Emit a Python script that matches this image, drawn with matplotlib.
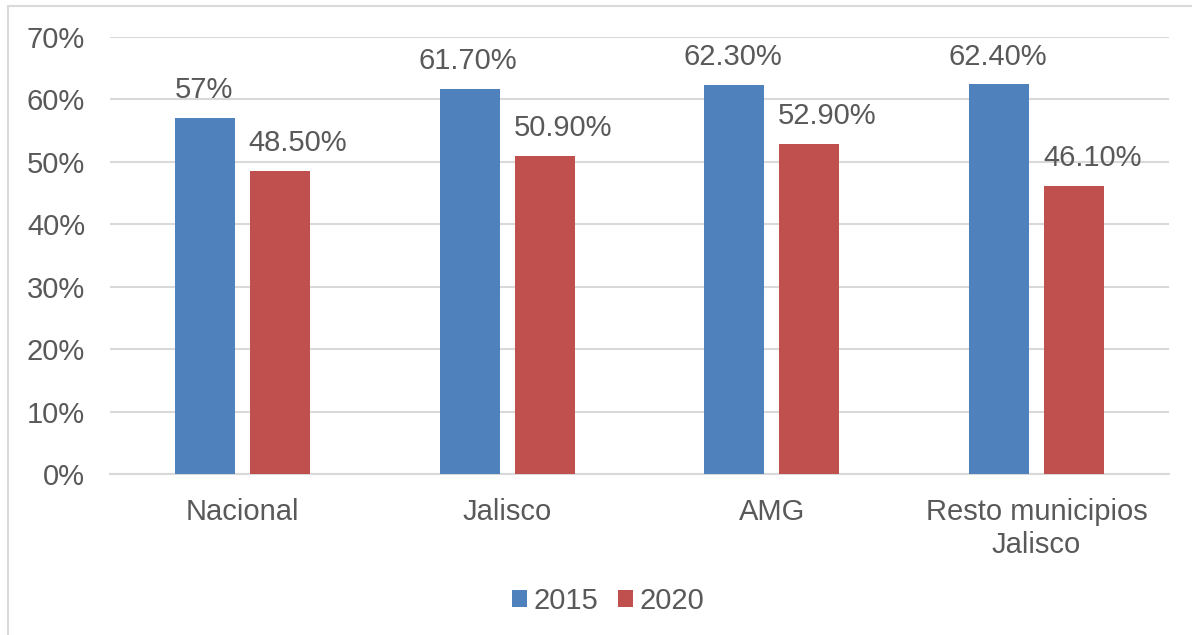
import matplotlib
matplotlib.use("Agg")
import matplotlib.pyplot as plt
import numpy as np
from matplotlib.patches import Rectangle

categories = ["Nacional", "Jalisco", "AMG", "Resto municipios\nJalisco"]
series_names = ["2015", "2020"]
values_2015 = [57.0, 61.7, 62.3, 62.4]
values_2020 = [48.5, 50.9, 52.9, 46.1]
labels_2015 = ["57%", "61.70%", "62.30%", "62.40%"]
labels_2020 = ["48.50%", "50.90%", "52.90%", "46.10%"]
yticks = [0, 10, 20, 30, 40, 50, 60, 70]

plt.rcParams['font.family'] = ['Liberation Sans', 'DejaVu Sans']
TXT = '#595959'
BLUE = '#4F81BD'
RED = '#C0504D'
GRID = '#D9D9D9'
FS = 21

fig = plt.figure(figsize=(11.92, 6.35), dpi=100)
ax = fig.add_axes([110/1192, 1-474/635, (1169-110)/1192, (474-37)/635])

x = np.arange(len(categories))
w = 60/265
gap = 15/265
b1 = ax.bar(x - (w+gap)/2, values_2015, w, color=BLUE, label=series_names[0], zorder=3)
b2 = ax.bar(x + (w+gap)/2, values_2020, w, color=RED, label=series_names[1], zorder=3)

for rect, lab in zip(b1, labels_2015):
    ax.annotate(lab, (rect.get_x()+rect.get_width()/2, rect.get_height()),
                xytext=(-1, 10), textcoords='offset points', ha='center', va='bottom',
                fontsize=FS, color=TXT)
for rect, lab in zip(b2, labels_2020):
    ax.annotate(lab, (rect.get_x()+rect.get_width()/2, rect.get_height()),
                xytext=(13, 10), textcoords='offset points', ha='center', va='bottom',
                fontsize=FS, color=TXT)

ax.set_xlim(-0.5, len(categories)-0.5)
ax.set_ylim(0, 70)
ax.set_yticks(yticks)
ax.set_yticklabels([f"{t}%" for t in yticks])
ax.set_xticks(x)
ax.set_xticklabels(categories, linespacing=1.25)
ax.yaxis.grid(True, color=GRID, linewidth=1.5, zorder=0)
for s in ['left', 'right', 'top']:
    ax.spines[s].set_visible(False)
ax.spines['bottom'].set_color(GRID)
ax.spines['bottom'].set_linewidth(1.5)
ax.tick_params(axis='y', length=0, pad=18, labelsize=FS, labelcolor=TXT)
ax.tick_params(axis='x', length=0, pad=17, labelsize=FS, labelcolor=TXT)

leg = fig.legend(loc='center', bbox_to_anchor=(608/1192, 1-601/635), ncol=2, frameon=False,
                 fontsize=FS, handlelength=0.52, handleheight=0.52, handletextpad=0.2,
                 columnspacing=0.7, labelcolor=TXT)

fig.patches.append(Rectangle((8/1192, -0.1), 1.2, 1-6/635+0.1, transform=fig.transFigure,
                             fill=False, edgecolor=GRID, linewidth=1.5))

fig.savefig("out.png", dpi=100)
